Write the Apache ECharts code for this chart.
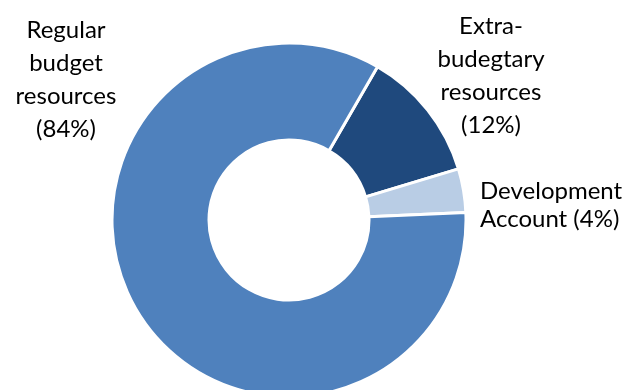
<!DOCTYPE html>
<html>
<head>
<meta charset="utf-8">
<script src="https://cdn.jsdelivr.net/npm/echarts@6/dist/echarts.min.js"></script>
<style>
html,body{margin:0;padding:0;background:#fff;}
#chart{width:624px;height:390px;}
</style>
</head>
<body>
<div id="chart"></div>
<script>
const categories = ["Extra-\nbudegtary\nresources", "Development\nAccount", "Regular\nbudget\nresources"];
const values = [12, 4, 84];
const percentLabels = ["(12%)", "(4%)", "(84%)"];
const colors = ["#1F497D", "#B9CDE5", "#4F81BD"];

const labelSpecs = [
  { x: 491, y: 76, align: "center", lineHeight: 33, sep: "\n" },
  { x: 480, y: 205, align: "left", lineHeight: 28, sep: " " },
  { x: 66, y: 80, align: "center", lineHeight: 33, sep: "\n" }
];

const chart = echarts.init(document.getElementById('chart'), null, { renderer: 'canvas' });
chart.setOption({
  animation: false,
  series: [{
    type: 'pie',
    center: [289, 220],
    radius: [80, 177],
    startAngle: 60,
    clockwise: true,
    avoidLabelOverlap: false,
    itemStyle: { borderColor: '#ffffff', borderWidth: 3 },
    label: {
      show: true,
      position: 'outside',
      fontFamily: 'Lato',
      fontSize: 24,
      color: '#000000',
      verticalAlign: 'middle'
    },
    labelLine: { show: false },
    emphasis: { disabled: true },
    labelLayout: function (params) {
      const s = labelSpecs[params.dataIndex];
      return { x: s.x, y: s.y, align: s.align, verticalAlign: 'middle', hideOverlap: false, moveOverlap: null };
    },
    data: categories.map((c, i) => ({
      name: c,
      value: values[i],
      itemStyle: { color: colors[i] },
      label: {
        formatter: c + labelSpecs[i].sep + percentLabels[i],
        align: labelSpecs[i].align,
        lineHeight: labelSpecs[i].lineHeight
      }
    }))
  }]
});
</script>
</body>
</html>
